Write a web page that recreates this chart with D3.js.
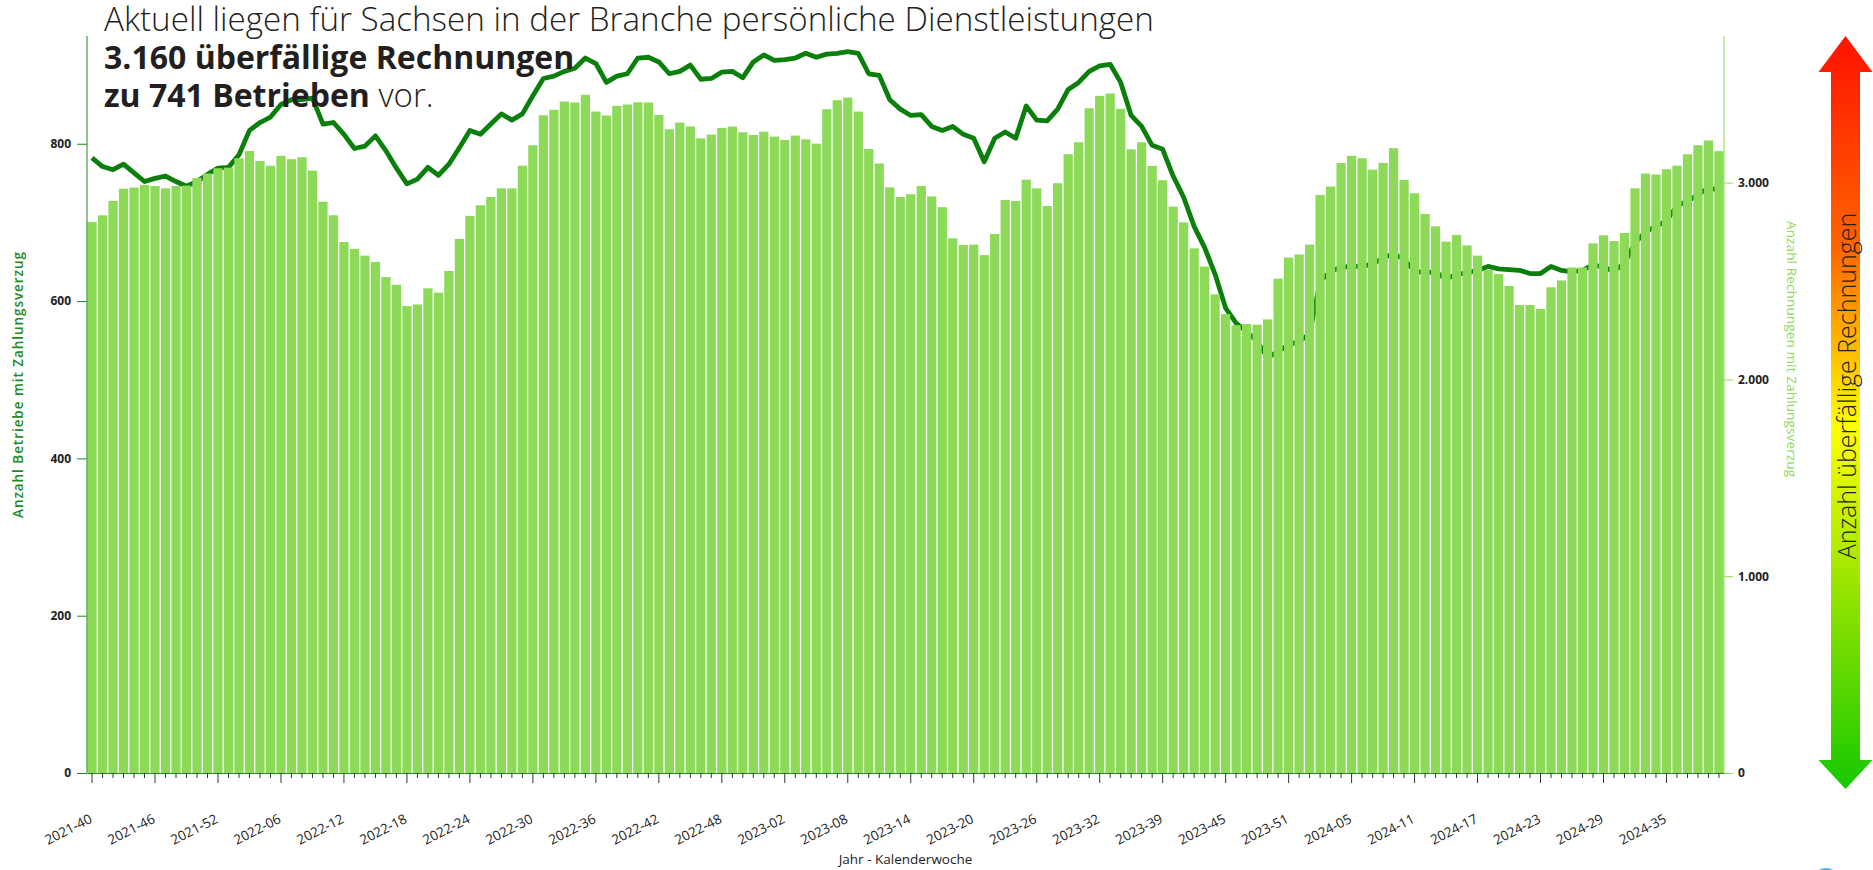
<!DOCTYPE html>
<html>
<head>
<meta charset="utf-8">
<script src="https://cdn.jsdelivr.net/npm/d3@7"></script>
<style>
body { margin: 0; background: #fff; font-family: "Open Sans", sans-serif; }
</style>
</head>
<body>
<div id="chart"></div>
<script>
// calendar weeks (2023-36 has no data in the source)
var weeks = [
  "2021-40","2021-41","2021-42","2021-43","2021-44","2021-45","2021-46","2021-47","2021-48","2021-49","2021-50","2021-51","2021-52",
  "2022-01","2022-02","2022-03","2022-04","2022-05","2022-06","2022-07","2022-08","2022-09","2022-10","2022-11","2022-12","2022-13",
  "2022-14","2022-15","2022-16","2022-17","2022-18","2022-19","2022-20","2022-21","2022-22","2022-23","2022-24","2022-25","2022-26",
  "2022-27","2022-28","2022-29","2022-30","2022-31","2022-32","2022-33","2022-34","2022-35","2022-36","2022-37","2022-38","2022-39",
  "2022-40","2022-41","2022-42","2022-43","2022-44","2022-45","2022-46","2022-47","2022-48","2022-49","2022-50","2022-51","2022-52",
  "2023-01","2023-02","2023-03","2023-04","2023-05","2023-06","2023-07","2023-08","2023-09","2023-10","2023-11","2023-12","2023-13",
  "2023-14","2023-15","2023-16","2023-17","2023-18","2023-19","2023-20","2023-21","2023-22","2023-23","2023-24","2023-25","2023-26",
  "2023-27","2023-28","2023-29","2023-30","2023-31","2023-32","2023-33","2023-34","2023-35","2023-37","2023-38","2023-39","2023-40",
  "2023-41","2023-42","2023-43","2023-44","2023-45","2023-46","2023-47","2023-48","2023-49","2023-50","2023-51","2023-52",
  "2024-01","2024-02","2024-03","2024-04","2024-05","2024-06","2024-07","2024-08","2024-09","2024-10","2024-11","2024-12","2024-13",
  "2024-14","2024-15","2024-16","2024-17","2024-18","2024-19","2024-20","2024-21","2024-22","2024-23","2024-24","2024-25","2024-26",
  "2024-27","2024-28","2024-29","2024-30","2024-31","2024-32","2024-33","2024-34","2024-35","2024-36","2024-37","2024-38","2024-39","2024-40"
];

// Anzahl Rechnungen mit Zahlungsverzug (bars, right axis)
var rechnungen = [
  2800,2834,2907,2969,2975,2988,2983,2971,2983,2985,3024,3046,3073,3076,3124,3161,3110,3086,3136,3119,
  3129,3061,2903,2834,2698,2663,2629,2597,2520,2481,2373,2381,2463,2441,2551,2714,2831,2885,2927,2971,
  2971,3086,3190,3342,3370,3412,3407,3446,3361,3341,3390,3397,3408,3407,3344,3271,3305,3285,3225,3244,
  3278,3285,3256,3242,3259,3234,3217,3239,3220,3198,3373,3419,3432,3361,3171,3097,2976,2927,2941,2983,
  2930,2875,2717,2683,2685,2632,2739,2912,2907,3015,2971,2881,2997,3144,3205,3378,3441,3453,3375,3169,
  3205,3085,3012,2878,2798,2666,2574,2432,2332,2276,2281,2278,2305,2512,2619,2635,2685,2937,2980,3100,
  3136,3124,3066,3100,3175,3014,2946,2841,2778,2700,2734,2681,2629,2556,2536,2475,2378,2378,2358,2468,
  2503,2569,2569,2691,2732,2703,2744,2971,3046,3041,3068,3086,3144,3190,3214,3160
];

// Anzahl Betriebe mit Zahlungsverzug (line, left axis)
var betriebe = [
  782,771,767,774,763,752,756,759,752,746,752,761,769,770,786,817,827,834,850,856,
  856,858,825,827,812,794,797,810,791,769,749,755,770,760,774,795,817,812,825,838,
  830,838,861,883,886,892,896,909,902,878,886,889,909,910,904,889,892,900,882,883,
  891,892,884,904,913,906,907,909,915,910,914,915,917,915,889,887,856,844,836,837,
  822,817,822,812,807,777,807,815,807,848,830,829,844,869,878,892,899,901,878,836,
  822,798,793,759,732,695,668,634,591,572,561,549,528,536,544,549,558,625,638,643,
  644,644,647,655,660,653,638,636,637,628,634,636,639,644,641,640,639,635,635,644,
  639,637,639,646,643,638,648,674,688,695,702,721,727,735,744,741
];

var leftTicks = [0, 200, 400, 600, 800];
var rightTicks = [0, 1000, 2000, 3000];

var W = 1873, H = 870;
var x0 = 87, x1 = 1724, yTop = 36, yBase = 773;

var svg = d3.select("#chart").append("svg")
  .attr("width", W)
  .attr("height", H)

var x = d3.scaleBand().domain(weeks).range([x0, x1]).paddingInner(0.12).paddingOuter(0.04)
var yL = d3.scaleLinear().domain([0, 937]).range([yBase, yTop])
var yR = d3.scaleLinear().domain([0, 3745]).range([yBase, yTop])

var deFormat = function(v){
  return d3.format(",")(v).replace(/,/g, ".")
}

// line first, the bars sit on top of it
var lineData = weeks.map(function(w, i){ return {w: w, v: betriebe[i]} })
var line = d3.line()
  .x(function(d){ return x(d.w) + x.bandwidth()/2 })
  .y(function(d){ return yL(d.v) })

svg.append("path")
  .datum(lineData)
  .attr("d", line)
  .attr("fill", "none")
  .attr("stroke", "#0b7f0b")
  .attr("stroke-width", 4.8)
  .attr("stroke-linejoin", "round")

svg.append("g").selectAll("rect")
  .data(weeks)
  .enter().append("rect")
  .attr("x", function(d){ return x(d) })
  .attr("y", function(d, i){ return yR(rechnungen[i]) })
  .attr("width", x.bandwidth())
  .attr("height", function(d, i){ return yBase - yR(rechnungen[i]) })
  .attr("fill", "#8cda58")

// x axis
var xAxis = d3.axisBottom(x)
  .tickSize(5)
  .tickSizeOuter(0)
  .tickFormat(function(d, i){ return i % 6 == 0 ? d : "" })

var gx = svg.append("g")
  .attr("transform", "translate(0," + yBase + ")")
  .call(xAxis)
gx.select(".domain").attr("stroke", "#1f8a1f")
gx.selectAll(".tick line").attr("stroke", "#333")
  .attr("y2", function(d, i){ return i % 6 == 0 ? 10 : 5 })
gx.selectAll(".tick text")
  .attr("x", 0).attr("y", 0).attr("dy", 0)
  .attr("text-anchor", "end")
  .attr("transform", "translate(1,49) rotate(-27)")
  .style("font-family", "Open Sans")
  .style("font-size", "13.5px")
  .style("fill", "#222")

// left axis
var gl = svg.append("g")
  .attr("transform", "translate(" + x0 + ",0)")
  .call(d3.axisLeft(yL).tickValues(leftTicks).tickSize(10).tickPadding(6).tickSizeOuter(0))
gl.select(".domain").attr("stroke", "#1f8a1f").attr("d", "M0," + yBase + "V" + yTop)
gl.selectAll(".tick line").attr("stroke", "#1f8a1f")
gl.selectAll(".tick text")
  .style("font-family", "Open Sans").style("font-size", "12px").style("font-weight", "700").style("fill", "#222")

// right axis
var gr = svg.append("g")
  .attr("transform", "translate(" + x1 + ",0)")
  .call(d3.axisRight(yR).tickValues(rightTicks).tickFormat(deFormat).tickSize(9).tickPadding(5).tickSizeOuter(0))
gr.select(".domain").attr("stroke", "#8cda58").attr("d", "M0," + yBase + "V" + yTop)
gr.selectAll(".tick line").attr("stroke", "#8cda58")
gr.selectAll(".tick text")
  .style("font-family", "Open Sans").style("font-size", "12px").style("font-weight", "700").style("fill", "#222")

// axis titles
svg.append("text")
  .attr("transform", "translate(18,385) rotate(-90)")
  .attr("text-anchor", "middle")
  .attr("dominant-baseline", "central")
  .attr("textLength", 266)
  .style("font-family", "Open Sans").style("font-size", "13.5px").style("font-weight", "600")
  .style("fill", "#1f8a1f")
  .text("Anzahl Betriebe mit Zahlungsverzug")

svg.append("text")
  .attr("transform", "translate(1792,349) rotate(90)")
  .attr("text-anchor", "middle")
  .attr("dominant-baseline", "central")
  .attr("textLength", 256)
  .style("font-family", "Open Sans").style("font-size", "13.5px")
  .style("fill", "#8cda58")
  .text("Anzahl Rechnungen mit Zahlungsverzug")

svg.append("text")
  .attr("x", (x0 + x1)/2)
  .attr("y", 864)
  .attr("text-anchor", "middle")
  .style("font-family", "Open Sans").style("font-size", "13.5px")
  .style("fill", "#222")
  .text("Jahr - Kalenderwoche")

// gradient arrow on the right
var defs = svg.append("defs")
var grad = defs.append("linearGradient").attr("id", "arrowGrad")
  .attr("x1", 0).attr("y1", 0).attr("x2", 0).attr("y2", 1)
var stops = [[0, "#ff1200"], [0.28, "#ff6400"], [0.52, "#ffff00"], [0.72, "#9ee600"], [1, "#16c800"]]
stops.forEach(function(s){
  grad.append("stop").attr("offset", s[0]).attr("stop-color", s[1])
})

var cx = 1845.5, hw = 27, sw = 14.5, aTop = 36, aBot = 789, head = 36
var pts = [[cx, aTop], [cx+hw, aTop+head], [cx+sw, aTop+head], [cx+sw, aBot-head+7], [cx+hw, aBot-head+7],
  [cx, aBot], [cx-hw, aBot-head+7], [cx-sw, aBot-head+7], [cx-sw, aTop+head], [cx-hw, aTop+head]]
svg.append("polygon")
  .attr("points", pts.map(function(p){ return p.join(",") }).join(" "))
  .attr("fill", "url(#arrowGrad)")

svg.append("text")
  .attr("transform", "translate(" + cx + ",386) rotate(-90)")
  .attr("text-anchor", "middle")
  .attr("dominant-baseline", "central")
  .style("font-family", "Open Sans").style("font-size", "25px").style("font-weight", "300")
  .style("fill", "#222")
  .text("Anzahl überfällige Rechnungen")

svg.append("circle")
  .attr("cx", 1826).attr("cy", 882).attr("r", 14)
  .attr("fill", "#4fb3e8")

// headline
var title = svg.append("text")
  .attr("x", 104)
  .style("font-family", "Open Sans").style("font-size", "32px").style("font-weight", "300")
  .style("fill", "#231f20")
title.append("tspan").attr("x", 104).attr("y", 31).style("font-size", "33.2px")
  .text("Aktuell liegen für Sachsen in der Branche persönliche Dienstleistungen")
title.append("tspan").attr("x", 104).attr("y", 69).style("font-weight", "700")
  .text("3.160 überfällige Rechnungen")
title.append("tspan").attr("x", 104).attr("y", 107).style("font-weight", "700")
  .text("zu 741 Betrieben")
title.append("tspan").style("font-size", "33px").text(" vor.")
</script>
</body>
</html>
